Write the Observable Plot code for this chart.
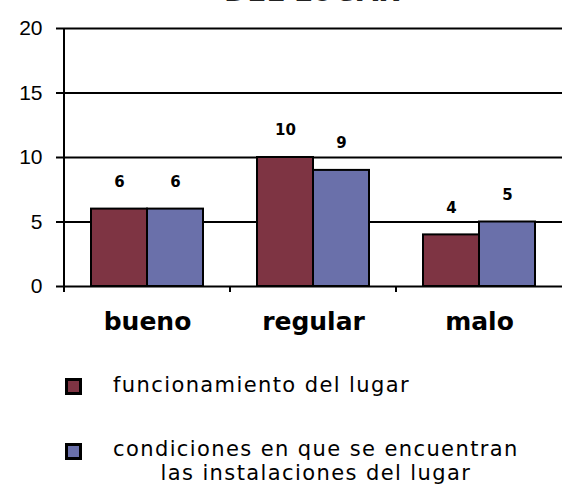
<!DOCTYPE html>
<html><head><meta charset="utf-8">
<script src="https://cdn.jsdelivr.net/npm/d3@7"></script>
<script src="https://cdn.jsdelivr.net/npm/@observablehq/plot@0.6"></script>
<style>
body{margin:0;background:#fff;width:564px;height:487px;overflow:hidden;font-family:"DejaVu Sans",sans-serif;position:relative}
#title{position:absolute;left:0;top:0;width:564px;height:5px;overflow:hidden}
#title span{position:absolute;left:0;width:624px;text-align:center;top:-25px;font:bold 28px "DejaVu Sans";color:#222}
#c{position:absolute;left:0;top:0}
#legend{font-size:21px;letter-spacing:1.4px;color:#000;line-height:24px}
.sw{position:absolute;left:65px;width:11px;height:11px;border:3px solid #000}
.lt{position:absolute;left:113px;white-space:nowrap;text-align:center}
</style></head><body>
<div id="title"><span></span></div>
<div id="c"></div>
<div id="legend"></div>
<script>
const title = "DEL LUGAR";
const categories = ["bueno", "regular", "malo"];
const series = ["funcionamiento del lugar", "condiciones en que se encuentran las instalaciones del lugar"];
const funcionamiento = [6, 10, 4];
const condiciones = [6, 9, 5];
const yTicks = [0, 5, 10, 15, 20];
const colors = ["#7e3443", "#6a70aa"];

document.querySelector("#title span").textContent = title;

const data = [];
categories.forEach((c, i) => {
  data.push({cat: c, serie: series[0], value: funcionamiento[i]});
  data.push({cat: c, serie: series[1], value: condiciones[i]});
});

const plot = Plot.plot({
  width: 564, height: 345,
  marginTop: 28, marginBottom: 59, marginLeft: 63, marginRight: 1,
  fx: {domain: categories, padding: 0, label: null, axis: null},
  x: {domain: series, paddingInner: 0, paddingOuter: 0.48, axis: null},
  y: {domain: [0, 20], axis: null},
  color: {domain: series, range: colors},
  style: {background: "transparent"},
  marks: [
    Plot.ruleY(yTicks, {stroke: "#000", strokeWidth: 2}),
    Plot.barY(data, {fx: "cat", x: "serie", y: "value", fill: "serie", stroke: "#000", strokeWidth: 2}),
    Plot.text(data, {fx: "cat", x: "serie", y: "value", text: "value", dy: -27, fontSize: 15, fontWeight: "bold", fontFamily: "DejaVu Sans", fill: "#000"}),
    Plot.axisY({ticks: yTicks, tickSize: 8, tickPadding: 14, fontSize: 21, fontFamily: "Liberation Sans", label: null, stroke: "#000", strokeWidth: 2, fill: "#000"}),
    Plot.axisFx({anchor: "bottom", tickSize: 0, tickPadding: 26, fontSize: 25, fontFamily: "DejaVu Sans", fontWeight: "bold", label: null, fill: "#000"})
  ]
});
document.getElementById("c").appendChild(plot);

// y axis line and category boundary ticks from the Plot scales
const fx = plot.scale("fx"), ys = plot.scale("y");
const svg = d3.select(plot.tagName === "svg" ? plot : plot.querySelector("svg"));
const g = svg.append("g").attr("stroke", "#000").attr("stroke-width", 2);
const x0 = fx.apply(categories[0]);
g.append("line").attr("x1", x0).attr("x2", x0).attr("y1", ys.apply(20)).attr("y2", ys.apply(0) + 6);
categories.slice(1).forEach(c => {
  const xc = fx.apply(c);
  g.append("line").attr("x1", xc).attr("x2", xc).attr("y1", ys.apply(0)).attr("y2", ys.apply(0) + 6);
});

// legend
const leg = document.getElementById("legend");
const items = [
  {top: 373, sw: 378, lines: ["funcionamiento del lugar"]},
  {top: 437, sw: 443, lines: ["condiciones en que se encuentran", "las instalaciones del lugar"]}
];
items.forEach((it, i) => {
  const s = document.createElement("div");
  s.className = "sw"; s.style.top = it.sw + "px"; s.style.background = colors[i];
  leg.appendChild(s);
  const t = document.createElement("div");
  t.className = "lt"; t.style.top = it.top + "px";
  t.innerHTML = it.lines.join("<br>");
  leg.appendChild(t);
});
</script>
</body></html>
